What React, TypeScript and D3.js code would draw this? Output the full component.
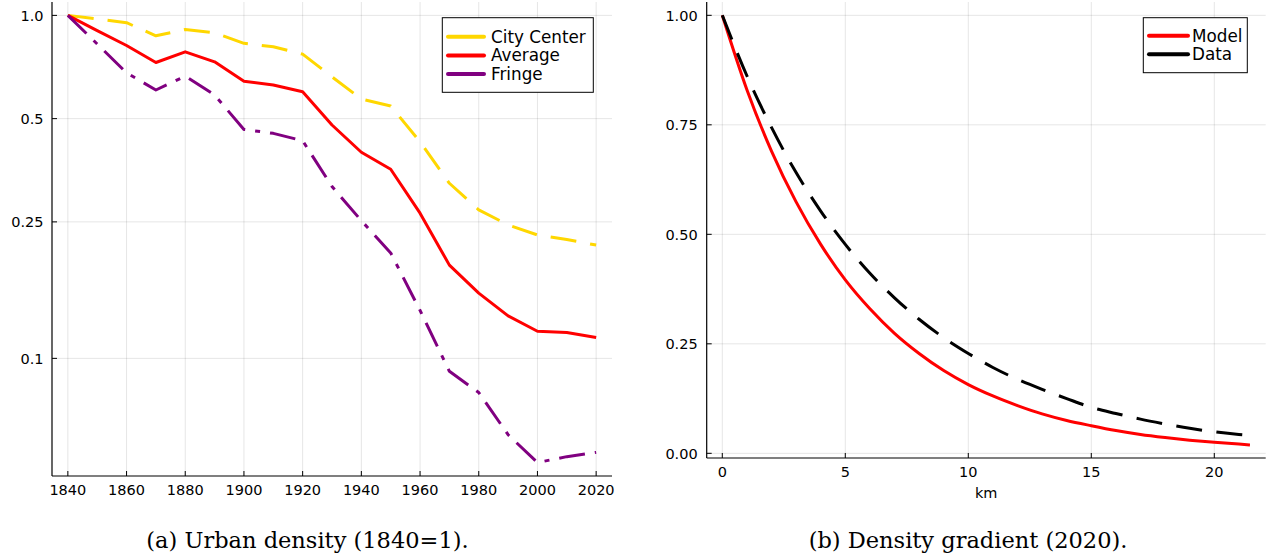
import React from "react";
import * as d3 from "d3";

// ---------- Panel (a): urban density, 1840 = 1 ----------
const years = [1840, 1850, 1860, 1870, 1880, 1890, 1900, 1910, 1920, 1930, 1940, 1950, 1960, 1970, 1980, 1990, 2000, 2010, 2020];
const cityCenter = [1.0, 0.976, 0.952, 0.872, 0.91, 0.89, 0.829, 0.81, 0.771, 0.662, 0.57, 0.544, 0.428, 0.324, 0.271, 0.245, 0.229, 0.222, 0.214];
const average = [1.0, 0.903, 0.817, 0.729, 0.783, 0.732, 0.643, 0.627, 0.599, 0.479, 0.399, 0.356, 0.265, 0.187, 0.155, 0.133, 0.12, 0.119, 0.115];
const fringe = [1.0, 0.825, 0.68, 0.606, 0.665, 0.586, 0.465, 0.453, 0.431, 0.317, 0.252, 0.203, 0.138, 0.0917, 0.0795, 0.0599, 0.0497, 0.0517, 0.0532];
const leftYTicks = [1.0, 0.5, 0.25, 0.1];
const leftYTickLabels = ["1.0", "0.5", "0.25", "0.1"];
const leftXTicks = [1840, 1860, 1880, 1900, 1920, 1940, 1960, 1980, 2000, 2020];
const leftSeriesNames = ["City Center", "Average", "Fringe"];

// ---------- Panel (b): density gradient, 2020 ----------
const km = [0, 1, 2, 3, 4, 5, 6, 7, 8, 9, 10, 11, 12, 13, 14, 15, 16, 17, 18, 19, 20, 21, 21.45];
const model = [1.0, 0.83, 0.69, 0.574, 0.477, 0.396, 0.33, 0.274, 0.228, 0.189, 0.157, 0.131, 0.109, 0.09, 0.075, 0.063, 0.052, 0.043, 0.036, 0.03, 0.025, 0.021, 0.019];
const dataGrad = [1.0, 0.862, 0.744, 0.641, 0.553, 0.477, 0.411, 0.355, 0.306, 0.264, 0.228, 0.196, 0.169, 0.146, 0.125, 0.105, 0.091, 0.078, 0.067, 0.057, 0.049, 0.043, 0.041];
const rightYTicks = [0, 0.25, 0.5, 0.75, 1.0];
const rightXTicks = [0, 5, 10, 15, 20];
const rightSeriesNames = ["Model", "Data"];

const captionA = "(a) Urban density (1840=1).";
const captionB = "(b) Density gradient (2020).";

const FONT = "DejaVu Sans, sans-serif";
const GRID = "rgba(0,0,0,0.1)";

export default function App() {
  // Left panel geometry
  const L = { left: 52, right: 612, top: 2, bottom: 476 };
  const xL = d3.scaleLinear().domain([1834.6, 2025.4]).range([L.left, L.right]);
  const yL = d3.scaleLog().domain([0.0454, 1.094]).range([L.bottom, L.top]);
  const lineL = (vals: number[]) =>
    d3.line<number>().x((_, i) => xL(years[i])).y((v) => yL(v))(vals) || "";

  // Right panel geometry
  const R = { left: 706.7, right: 1265.7, top: 2, bottom: 458 };
  const xR = d3.scaleLinear().domain([-0.634, 22.09]).range([R.left, R.right]);
  const yR = d3.scaleLinear().domain([-0.0107, 1.0304]).range([R.bottom, R.top]);
  const lineR = (vals: number[]) =>
    d3
      .line<number>()
      .x((_, i) => xR(km[i]))
      .y((v) => yR(v))
      .curve(d3.curveMonotoneX)(vals) || "";

  const leftSeries = [
    { vals: cityCenter, color: "#FFD700", dash: "26,14" },
    { vals: average, color: "#FF0000", dash: "" },
    { vals: fringe, color: "#800080", dash: "26,10,5,10" },
  ];
  const rightSeries = [
    { vals: model, color: "#FF0000", dash: "" },
    { vals: dataGrad, color: "#000000", dash: "26,14.5" },
  ];

  return (
    <svg
      width={1267}
      height={560}
      style={{ position: "absolute", left: 0, top: 0, background: "#fff" }}
      xmlns="http://www.w3.org/2000/svg"
    >
      <rect x={0} y={0} width={1267} height={560} fill="#fff" />

      {/* ---------- Left panel ---------- */}
      <g>
        {leftXTicks.map((t) => (
          <line key={"lgx" + t} x1={xL(t)} x2={xL(t)} y1={L.top} y2={L.bottom} stroke={GRID} strokeWidth={1} />
        ))}
        {leftYTicks.map((t) => (
          <line key={"lgy" + t} x1={L.left} x2={L.right} y1={yL(t)} y2={yL(t)} stroke={GRID} strokeWidth={1} />
        ))}
        {leftSeries.map((s, i) => (
          <path
            key={"ls" + i}
            d={lineL(s.vals)}
            fill="none"
            stroke={s.color}
            strokeWidth={3}
            strokeDasharray={s.dash || undefined}
            strokeLinejoin="round"
          />
        ))}
        <line x1={L.left} x2={L.left} y1={L.top} y2={L.bottom} stroke="#000" strokeWidth={1.2} />
        <line x1={L.left} x2={L.right} y1={L.bottom} y2={L.bottom} stroke="#000" strokeWidth={1.2} />
        {leftXTicks.map((t) => (
          <g key={"lxt" + t}>
            <line x1={xL(t)} x2={xL(t)} y1={L.bottom} y2={L.bottom - 5} stroke="#000" strokeWidth={1} />
            <text x={xL(t)} y={L.bottom + 19} textAnchor="middle" fontFamily={FONT} fontSize={14.5} fill="#000">
              {t}
            </text>
          </g>
        ))}
        {leftYTicks.map((t, i) => (
          <g key={"lyt" + t}>
            <line x1={L.left} x2={L.left + 5} y1={yL(t)} y2={yL(t)} stroke="#000" strokeWidth={1} />
            <text x={L.left - 8.5} y={yL(t)} dy="0.36em" textAnchor="end" fontFamily={FONT} fontSize={14.5} fill="#000">
              {leftYTickLabels[i]}
            </text>
          </g>
        ))}
        {/* legend */}
        <rect x={442.3} y={17.7} width={151} height={74.6} fill="#fff" stroke="#000" strokeWidth={1} />
        {leftSeries.map((s, i) => (
          <g key={"lleg" + i}>
            <line x1={448} x2={484} y1={36.7 + i * 18.7} y2={36.7 + i * 18.7} stroke={s.color} strokeWidth={4} strokeLinecap="round" />
            <text x={491} y={36.7 + i * 18.7} dy="0.36em" fontFamily={FONT} fontSize={16.8} fill="#000">
              {leftSeriesNames[i]}
            </text>
          </g>
        ))}
      </g>

      {/* ---------- Right panel ---------- */}
      <g>
        {rightXTicks.map((t) => (
          <line key={"rgx" + t} x1={xR(t)} x2={xR(t)} y1={R.top} y2={R.bottom} stroke={GRID} strokeWidth={1} />
        ))}
        {rightYTicks.map((t) => (
          <line key={"rgy" + t} x1={R.left} x2={R.right} y1={yR(t)} y2={yR(t)} stroke={GRID} strokeWidth={1} />
        ))}
        {rightSeries.map((s, i) => (
          <path
            key={"rs" + i}
            d={lineR(s.vals)}
            fill="none"
            stroke={s.color}
            strokeWidth={3}
            strokeDasharray={s.dash || undefined}
            strokeLinejoin="round"
          />
        ))}
        <line x1={R.left} x2={R.left} y1={R.top} y2={R.bottom} stroke="#000" strokeWidth={1.2} />
        <line x1={R.left} x2={R.right} y1={R.bottom} y2={R.bottom} stroke="#000" strokeWidth={1.2} />
        {rightXTicks.map((t) => (
          <g key={"rxt" + t}>
            <line x1={xR(t)} x2={xR(t)} y1={R.bottom} y2={R.bottom - 5} stroke="#000" strokeWidth={1} />
            <text x={xR(t)} y={R.bottom + 19} textAnchor="middle" fontFamily={FONT} fontSize={14.5} fill="#000">
              {t}
            </text>
          </g>
        ))}
        {rightYTicks.map((t) => (
          <g key={"ryt" + t}>
            <line x1={R.left} x2={R.left + 5} y1={yR(t)} y2={yR(t)} stroke="#000" strokeWidth={1} />
            <text x={R.left - 9} y={yR(t)} dy="0.36em" textAnchor="end" fontFamily={FONT} fontSize={14.5} fill="#000">
              {d3.format(".2f")(t)}
            </text>
          </g>
        ))}
        <text x={(R.left + R.right) / 2} y={498} textAnchor="middle" fontFamily={FONT} fontSize={14.5} fill="#000">
          km
        </text>
        {/* legend */}
        <rect x={1143.3} y={17.7} width={104} height={55} fill="#fff" stroke="#000" strokeWidth={1} />
        {rightSeries.map((s, i) => (
          <g key={"rleg" + i}>
            <line x1={1149} x2={1188} y1={35.7 + i * 18.6} y2={35.7 + i * 18.6} stroke={s.color} strokeWidth={4} strokeLinecap="round" />
            <text x={1192} y={35.7 + i * 18.6} dy="0.36em" fontFamily={FONT} fontSize={16.8} fill="#000">
              {rightSeriesNames[i]}
            </text>
          </g>
        ))}
      </g>

      {/* ---------- Captions ---------- */}
      <text x={307.5} y={548} textAnchor="middle" fontFamily="DejaVu Serif, serif" fontSize={22.5} fill="#000">
        {captionA}
      </text>
      <text x={968} y={548} textAnchor="middle" fontFamily="DejaVu Serif, serif" fontSize={22.5} fill="#000">
        {captionB}
      </text>
    </svg>
  );
}
